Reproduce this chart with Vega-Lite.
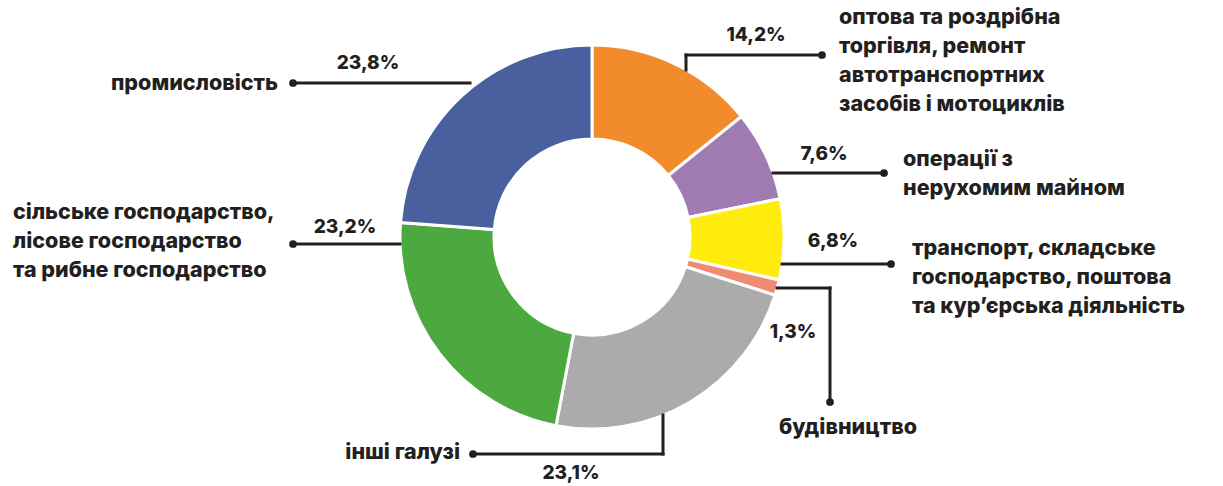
{
  "$schema": "https://vega.github.io/schema/vega-lite/v6.json",
  "width": 1184,
  "height": 474,
  "autosize": {"type": "none"},
  "padding": {"left": 0, "top": 0, "right": 39, "bottom": 12},
  "background": "white",
  "config": {"view": {"stroke": null}},
  "datasets": {
    "sectors": [
      {"sector": "оптова та роздрібна торгівля, ремонт автотранспортних засобів і мотоциклів", "pct": 14.2, "ord": 1},
      {"sector": "операції з нерухомим майном", "pct": 7.6, "ord": 2},
      {"sector": "транспорт, складське господарство, поштова та кур’єрська діяльність", "pct": 6.8, "ord": 3},
      {"sector": "будівництво", "pct": 1.3, "ord": 4},
      {"sector": "інші галузі", "pct": 23.1, "ord": 5},
      {"sector": "сільське господарство, лісове господарство та рибне господарство", "pct": 23.2, "ord": 6},
      {"sector": "промисловість", "pct": 23.8, "ord": 7}
    ],
    "segments": [
      {"x": 94, "y": 167, "x2": 94, "y2": 182},
      {"x": 94, "y": 182, "x2": 230, "y2": 182},
      {"x": 181, "y": 64, "x2": 292, "y2": 64},
      {"x": 190, "y": -27, "x2": 299, "y2": -27},
      {"x": 185, "y": -51, "x2": 238, "y2": -51},
      {"x": 238, "y": -51, "x2": 238, "y2": -165},
      {"x": 71, "y": -178, "x2": 71, "y2": -217},
      {"x": 71, "y": -217, "x2": -119, "y2": -217},
      {"x": -192, "y": -7, "x2": -299, "y2": -7},
      {"x": -122, "y": 154, "x2": -299, "y2": 154}
    ],
    "dots": [
      {"x": 230, "y": 182},
      {"x": 292, "y": 64},
      {"x": 299, "y": -27},
      {"x": 238, "y": -165},
      {"x": -119, "y": -217},
      {"x": -299, "y": -7},
      {"x": -299, "y": 154}
    ],
    "pctLabels": [
      {"t": "14,2%", "x": 164, "y": 202},
      {"t": "7,6%", "x": 232, "y": 83},
      {"t": "6,8%", "x": 241, "y": -4},
      {"t": "1,3%", "x": 201, "y": -95},
      {"t": "23,1%", "x": -21, "y": -236},
      {"t": "23,2%", "x": -247, "y": 10},
      {"t": "23,8%", "x": -224, "y": 174}
    ],
    "leftLabels": [
      {"t": "оптова та роздрібна\nторгівля, ремонт\nавтотранспортних\nзасобів і мотоциклів", "x": 247, "y": 219},
      {"t": "операції з\nнерухомим майном", "x": 311, "y": 77},
      {"t": "транспорт, складське\nгосподарство, поштова\nта кур’єрська діяльність", "x": 320, "y": -12},
      {"t": "сільське господарство,\nлісове господарство\nта рибне господарство", "x": -579, "y": 24}
    ],
    "rightLabels": [
      {"t": "промисловість", "x": -314, "y": 153},
      {"t": "інші галузі", "x": -132, "y": -216}
    ],
    "centerLabels": [
      {"t": "будівництво", "x": 256, "y": -191}
    ]
  },
  "layer": [
    {
      "data": {"name": "sectors"},
      "mark": {"type": "arc", "outerRadius": 192, "innerRadius": 98, "stroke": "white", "strokeWidth": 3},
      "encoding": {
        "theta": {"field": "pct", "type": "quantitative", "stack": true},
        "order": {"field": "ord", "type": "quantitative"},
        "color": {
          "field": "sector",
          "type": "nominal",
          "legend": null,
          "scale": {
            "domain": [
              "оптова та роздрібна торгівля, ремонт автотранспортних засобів і мотоциклів",
              "операції з нерухомим майном",
              "транспорт, складське господарство, поштова та кур’єрська діяльність",
              "будівництво",
              "інші галузі",
              "сільське господарство, лісове господарство та рибне господарство",
              "промисловість"
            ],
            "range": ["#F18B2C", "#9F7BB1", "#FFEC0C", "#F08B73", "#ABABAB", "#4BA93F", "#4A5F9E"]
          }
        }
      }
    },
    {
      "data": {"name": "segments"},
      "mark": {"type": "rule", "strokeWidth": 3, "color": "#231f20", "strokeCap": "square"},
      "encoding": {
        "x": {"field": "x", "type": "quantitative", "scale": {"domain": [-592, 592], "nice": false, "zero": false}, "axis": null},
        "y": {"field": "y", "type": "quantitative", "scale": {"domain": [-237, 237], "nice": false, "zero": false}, "axis": null},
        "x2": {"field": "x2"},
        "y2": {"field": "y2"}
      }
    },
    {
      "data": {"name": "dots"},
      "mark": {"type": "point", "filled": true, "size": 60, "color": "#231f20", "opacity": 1},
      "encoding": {
        "x": {"field": "x", "type": "quantitative", "axis": null},
        "y": {"field": "y", "type": "quantitative", "axis": null}
      }
    },
    {
      "data": {"name": "pctLabels"},
      "mark": {"type": "text", "font": "Inter", "fontWeight": 800, "fontSize": 19, "color": "#231f20", "align": "center", "baseline": "middle"},
      "encoding": {
        "x": {"field": "x", "type": "quantitative", "axis": null},
        "y": {"field": "y", "type": "quantitative", "axis": null},
        "text": {"field": "t"}
      }
    },
    {
      "data": {"name": "leftLabels"},
      "mark": {"type": "text", "font": "Inter", "fontWeight": 800, "fontSize": 21.5, "color": "#231f20", "align": "left", "baseline": "middle", "lineBreak": "\n", "lineHeight": 29},
      "encoding": {
        "x": {"field": "x", "type": "quantitative", "axis": null},
        "y": {"field": "y", "type": "quantitative", "axis": null},
        "text": {"field": "t"}
      }
    },
    {
      "data": {"name": "rightLabels"},
      "mark": {"type": "text", "font": "Inter", "fontWeight": 800, "fontSize": 21.5, "color": "#231f20", "align": "right", "baseline": "middle"},
      "encoding": {
        "x": {"field": "x", "type": "quantitative", "axis": null},
        "y": {"field": "y", "type": "quantitative", "axis": null},
        "text": {"field": "t"}
      }
    },
    {
      "data": {"name": "centerLabels"},
      "mark": {"type": "text", "font": "Inter", "fontWeight": 800, "fontSize": 21.5, "color": "#231f20", "align": "center", "baseline": "middle"},
      "encoding": {
        "x": {"field": "x", "type": "quantitative", "axis": null},
        "y": {"field": "y", "type": "quantitative", "axis": null},
        "text": {"field": "t"}
      }
    }
  ]
}
